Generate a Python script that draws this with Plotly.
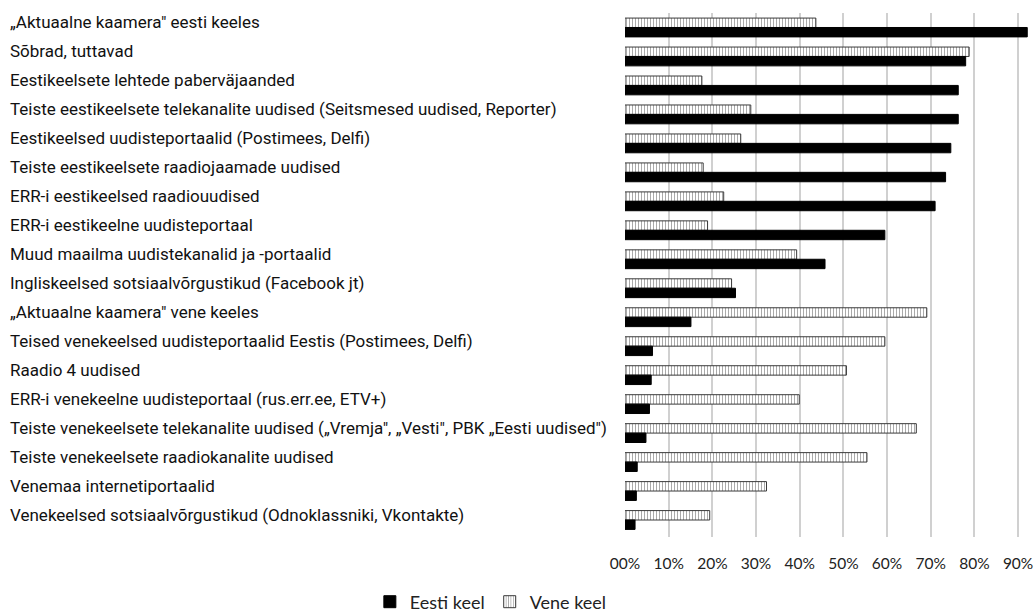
import plotly.graph_objects as go

categories = [
    "„Aktuaalne kaamera\" eesti keeles",
    "Sõbrad, tuttavad",
    "Eestikeelsete lehtede paberväjaanded",
    "Teiste eestikeelsete telekanalite uudised (Seitsmesed uudised, Reporter)",
    "Eestikeelsed uudisteportaalid (Postimees, Delfi)",
    "Teiste eestikeelsete raadiojaamade uudised",
    "ERR-i eestikeelsed raadiouudised",
    "ERR-i eestikeelne uudisteportaal",
    "Muud maailma uudistekanalid ja -portaalid",
    "Ingliskeelsed sotsiaalvõrgustikud (Facebook jt)",
    "„Aktuaalne kaamera\" vene keeles",
    "Teised venekeelsed uudisteportaalid Eestis (Postimees, Delfi)",
    "Raadio 4 uudised",
    "ERR-i venekeelne uudisteportaal (rus.err.ee, ETV+)",
    "Teiste venekeelsete telekanalite uudised („Vremja\", „Vesti\", PBK „Eesti uudised\")",
    "Teiste venekeelsete raadiokanalite uudised",
    "Venemaa internetiportaalid",
    "Venekeelsed sotsiaalvõrgustikud (Odnoklassniki, Vkontakte)",
]

eesti_keel = [0.921, 0.780, 0.763, 0.763, 0.746, 0.734, 0.710, 0.595, 0.458, 0.253,
              0.151, 0.063, 0.060, 0.056, 0.048, 0.028, 0.026, 0.023]
vene_keel = [0.437, 0.788, 0.176, 0.288, 0.265, 0.179, 0.226, 0.189, 0.393, 0.244,
             0.691, 0.595, 0.507, 0.399, 0.667, 0.554, 0.324, 0.194]

tick_vals = [0, 0.1, 0.2, 0.3, 0.4, 0.5, 0.6, 0.7, 0.8, 0.9]
tick_text = ["00%", "10%", "20%", "30%", "40%", "50%", "60%", "70%", "80%", "90%"]

W, H = 1036, 612
ML, MR, MT, MB = 625, 7, 13, 75
plot_w = W - ML - MR
plot_h = H - MT - MB

fig = go.Figure()
fig.add_trace(go.Bar(
    y=categories, x=vene_keel, orientation="h", name="Vene keel", legendrank=2,
    marker=dict(color="white", line=dict(color="#3a3a3a", width=1),
                pattern=dict(shape="|", fgcolor="#555555", bgcolor="white", size=3, solidity=0.35)),
))
fig.add_trace(go.Bar(
    y=categories, x=eesti_keel, orientation="h", name="Eesti keel", legendrank=1,
    marker=dict(color="black", line=dict(color="black", width=1)),
))

annotations = []
for c in categories:
    annotations.append(dict(
        xref="paper", yref="y", x=(8 - ML) / plot_w, y=c, xanchor="left", yanchor="middle",
        text=c, showarrow=False, yshift=5,
        font=dict(family="Roboto", size=17, color="#111111"),
    ))

fig.update_layout(
    width=W, height=H,
    margin=dict(l=ML, r=MR, t=MT, b=MB, autoexpand=False),
    plot_bgcolor="white", paper_bgcolor="white",
    barmode="group", bargap=0.35, bargroupgap=0,
    xaxis=dict(range=[0, 0.925], tickvals=tick_vals, ticktext=tick_text,
               showgrid=True, gridcolor="#d0d0d0", gridwidth=1.5, zeroline=False,
               showline=False, ticks="outside", ticklen=12, tickcolor="rgba(0,0,0,0)",
               automargin=False,
               tickfont=dict(family="Lato", size=15.5, color="#222222")),
    yaxis=dict(autorange="reversed", showticklabels=False, showgrid=False, zeroline=False,
               showline=False, ticks="", automargin=False),
    legend=dict(orientation="h", xref="container", yref="paper", x=0.357,
                y=-(602 - (H - MB)) / plot_h,
                xanchor="left", yanchor="middle", font=dict(family="Lato", size=18, color="#222222"),
                itemwidth=30, traceorder="normal"),
    annotations=annotations,
    showlegend=True,
)

fig.write_html("out.html", config={"displayModeBar": False},
               post_script="document.body.style.margin='0';document.body.style.overflow='hidden';")
